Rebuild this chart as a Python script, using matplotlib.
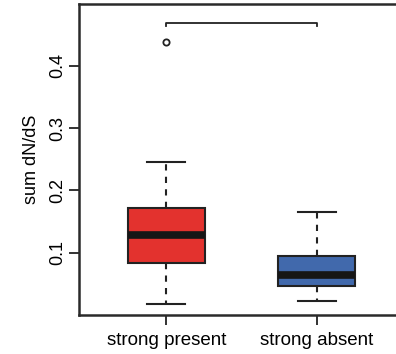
import matplotlib
matplotlib.use("Agg")
import matplotlib.pyplot as plt

categories = ["strong present", "strong absent"]
medians = [0.129, 0.065]
q1 = [0.084, 0.046]
q3 = [0.172, 0.095]
whis_lo = [0.017, 0.022]
whis_hi = [0.246, 0.166]
outliers = [[0.438], []]
colors = ["#E3322E", "#4169AC"]
yticks = [0.1, 0.2, 0.3, 0.4]
bracket_y = 0.469

plt.rcParams['font.family'] = ['Liberation Sans', 'DejaVu Sans']

fig = plt.figure(figsize=(3.96, 3.54), dpi=100)
ax = fig.add_axes([79/396, 39/354, 325/396, 311/354])

stats = []
for i, c in enumerate(categories):
    stats.append(dict(med=medians[i], q1=q1[i], q3=q3[i],
                      whislo=whis_lo[i], whishi=whis_hi[i], fliers=outliers[i]))
pos = [1, 2]
bp = ax.bxp(stats, positions=pos, widths=0.51, patch_artist=True,
            boxprops=dict(linewidth=1.5, edgecolor="#222222"),
            medianprops=dict(color="#161616", linewidth=5.5, solid_capstyle="butt"),
            whiskerprops=dict(color="#222222", linewidth=1.5, linestyle=(0, (3, 3))),
            capprops=dict(color="#222222", linewidth=1.5),
            capwidths=0.255,
            flierprops=dict(marker="o", markersize=4.5, markerfacecolor="white",
                            markeredgecolor="#222222", markeredgewidth=1.3))
for patch, col in zip(bp["boxes"], colors):
    patch.set_facecolor(col)

# significance bracket
ax.plot([pos[0], pos[0], pos[1], pos[1]],
        [bracket_y - 0.005, bracket_y, bracket_y, bracket_y - 0.005],
        color="#222222", linewidth=1.3)

ax.set_xlim(0.42, 2.58)
ax.set_ylim(0.0, 0.4995)
ax.set_yticks(yticks)
ax.set_yticklabels([f"{v:.1f}" for v in yticks], rotation=90, va="center", fontsize=13)
ax.set_xticks(pos)
ax.set_xticklabels(categories, fontsize=13.5)
ax.tick_params(axis="both", length=7, width=1.3, color="#222222")
ax.tick_params(axis="y", pad=2.5)
ax.tick_params(axis="x", pad=5)
ax.set_ylabel("sum dN/dS", fontsize=13, labelpad=6)
for s in ax.spines.values():
    s.set_linewidth(1.8)
    s.set_color("#2a2a2a")

fig.savefig("out.png", dpi=100)
